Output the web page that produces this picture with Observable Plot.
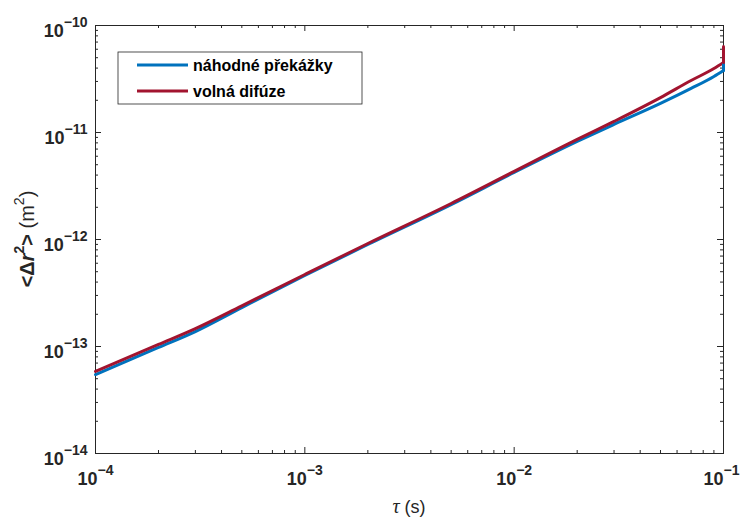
<!DOCTYPE html>
<html>
<head>
<meta charset="utf-8">
<script src="https://cdn.jsdelivr.net/npm/d3@7"></script>
<script src="https://cdn.jsdelivr.net/npm/@observablehq/plot@0.6"></script>
<style>
  html, body { margin: 0; padding: 0; background: #fff; }
  #chart svg { display: block; }
</style>
</head>
<body>
<div id="chart"></div>
<script>
// ---- data ----
// last two entries: the jump at tau = 0.1 s
const tau = [1e-4, 2e-4, 3e-4, 5e-4, 1e-3, 2e-3, 5e-3, 1e-2, 2e-2, 3e-2, 5e-2, 7e-2, 9e-2, 0.1, 0.1];
const msdObstacles = [5.47e-14, 9.8e-14, 1.38e-13, 2.31e-13, 4.61e-13, 8.98e-13, 2.12e-12, 4.23e-12, 8.24e-12, 1.19e-11, 1.87e-11, 2.58e-11, 3.34e-11, 3.8e-11, 4.92e-11];
const msdFree = [5.84e-14, 1.045e-13, 1.47e-13, 2.40e-13, 4.71e-13, 9.18e-13, 2.17e-12, 4.33e-12, 8.61e-12, 1.27e-11, 2.12e-11, 3.06e-11, 3.96e-11, 4.51e-11, 6.37e-11];
const seriesNames = ["náhodné překážky", "volná difúze"];
const seriesColors = ["#0072BD", "#A2142F"];
const xTicks = [1e-4, 1e-3, 1e-2, 1e-1];
const yTicks = [1e-14, 1e-13, 1e-12, 1e-11, 1e-10];

// ---- layout ----
const W = 740, H = 518;
const mL = 95, mR = 17, mT = 25, mB = 65;
const pw = W - mL - mR, ph = H - mT - mB;
const axisColor = "#262626";
const font = "'Liberation Sans', Arial, Helvetica, sans-serif";

function minors(lo, hi) {
  const out = [];
  for (let e = lo; e < hi; e++) for (let k = 2; k <= 9; k++) out.push(k * Math.pow(10, e));
  return out;
}
const xMinor = minors(-4, -1);
const yMinor = minors(-14, -10);

const nMain = tau.length - 1; // smooth part: indices 0..nMain-1; jump: last two
const mainRows = [], jumpRows = [];
[msdObstacles, msdFree].forEach((arr, k) => {
  tau.forEach((t, i) => {
    const r = {tau: t, msd: arr[i], s: seriesNames[k]};
    if (i < nMain) mainRows.push(r);
    if (i >= nMain - 1) jumpRows.push(r);
  });
});

const expFmt = d => "10|" + Math.round(Math.log10(d));

const chart = Plot.plot({
  width: W, height: H,
  marginLeft: mL, marginRight: mR, marginTop: mT, marginBottom: mB,
  style: {fontFamily: font, background: "#fff", overflow: "visible"},
  x: {type: "log", domain: [1e-4, 1e-1]},
  y: {type: "log", domain: [1e-14, 1e-10]},
  color: {domain: seriesNames, range: seriesColors},
  marks: [
    Plot.frame({stroke: axisColor, strokeWidth: 1}),
    // inward ticks on all four sides
    Plot.tickX(xTicks, {x: d => d, insetTop: ph - 6, stroke: axisColor}),
    Plot.tickX(xTicks, {x: d => d, insetBottom: ph - 6, stroke: axisColor}),
    Plot.tickX(xMinor, {x: d => d, insetTop: ph - 3, stroke: axisColor}),
    Plot.tickX(xMinor, {x: d => d, insetBottom: ph - 3, stroke: axisColor}),
    Plot.tickY(yTicks, {y: d => d, insetRight: pw - 6, stroke: axisColor}),
    Plot.tickY(yTicks, {y: d => d, insetLeft: pw - 6, stroke: axisColor}),
    Plot.tickY(yMinor, {y: d => d, insetRight: pw - 3, stroke: axisColor}),
    Plot.tickY(yMinor, {y: d => d, insetLeft: pw - 3, stroke: axisColor}),
    Plot.axisX({ticks: xTicks, tickSize: 0, tickPadding: 19, tickFormat: expFmt, label: null,
      fontSize: 18, fontWeight: "bold", fill: axisColor}),
    Plot.axisY({ticks: yTicks, tickSize: 0, tickPadding: 8, dy: 6, tickFormat: expFmt, label: null,
      fontSize: 18, fontWeight: "bold", fill: axisColor}),
    Plot.line(mainRows, {x: "tau", y: "msd", z: "s", stroke: "s", strokeWidth: 3, curve: "monotone-x"}),
    Plot.line(jumpRows, {x: "tau", y: "msd", z: "s", stroke: "s", strokeWidth: 3, curve: "linear"})
  ]
});

// superscript exponents on tick labels
const svg = d3.select(chart);
svg.selectAll('g[aria-label="x-axis tick label"] text, g[aria-label="y-axis tick label"] text').each(function() {
  const t = d3.select(this);
  const parts = t.text().split("|");
  t.text(null);
  t.append("tspan").text(parts[0]);
  t.append("tspan").attr("font-size", 14).attr("dy", "-0.7em").text(parts[1].replace("-", "\u2212"));
});
// keep the last x label inside the picture, like the reference
const xLabs = svg.selectAll('g[aria-label="x-axis tick label"] text').nodes();
d3.select(xLabs[xLabs.length - 1]).attr("dx", -2);

// axis titles
const xl = svg.append("text")
  .attr("x", mL + pw / 2).attr("y", 513)
  .attr("text-anchor", "middle").attr("fill", axisColor)
  .attr("font-family", font).attr("font-size", 18);
xl.append("tspan").attr("font-family", "'Liberation Serif', 'DejaVu Serif', serif").attr("font-style", "italic").attr("font-size", 20).text("τ");
xl.append("tspan").text(" (s)");

const yl = svg.append("text")
  .attr("transform", `translate(34,${mT + ph / 2}) rotate(-90)`)
  .attr("text-anchor", "middle").attr("fill", axisColor)
  .attr("font-family", font).attr("font-size", 20);
yl.append("tspan").attr("font-weight", "bold").text("<Δ");
yl.append("tspan").attr("font-weight", "bold").attr("font-style", "italic").text("r");
yl.append("tspan").attr("font-weight", "bold").attr("font-size", 14).attr("dy", "-0.75em").text("2");
yl.append("tspan").attr("font-weight", "bold").attr("dy", "0.525em").text(">");
yl.append("tspan").text(" (m");
yl.append("tspan").attr("font-size", 14).attr("dy", "-0.75em").text("2");
yl.append("tspan").attr("dy", "0.525em").text(")");

// legend
const lg = svg.append("g").attr("font-family", font);
lg.append("rect").attr("x", 118).attr("y", 52).attr("width", 244).attr("height", 52)
  .attr("fill", "#fff").attr("stroke", axisColor).attr("stroke-width", 0.8);
seriesNames.forEach((name, i) => {
  const cy = 65 + i * 26;
  lg.append("line").attr("x1", 137).attr("x2", 188).attr("y1", cy).attr("y2", cy)
    .attr("stroke", seriesColors[i]).attr("stroke-width", 3);
  lg.append("text").attr("x", 193).attr("y", cy + 6).attr("font-size", 16)
    .attr("text-anchor", "start")
    .attr("font-weight", "bold").attr("fill", "#000").text(name);
});

document.getElementById("chart").appendChild(chart);
</script>
</body>
</html>
